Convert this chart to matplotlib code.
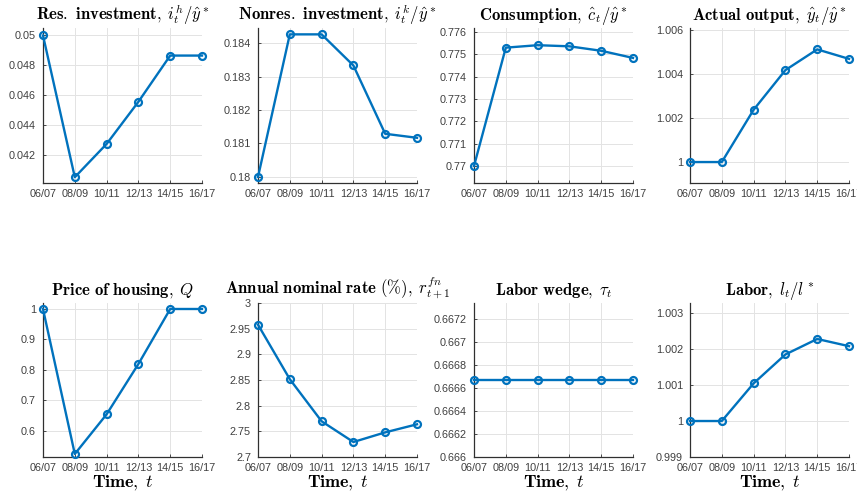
import matplotlib
matplotlib.use("Agg")
import matplotlib.pyplot as plt
from matplotlib.ticker import FixedLocator, FuncFormatter

plt.rcParams['mathtext.fontset'] = 'cm'
plt.rcParams['font.family'] = ['Liberation Sans', 'DejaVu Sans']

periods = ["06/07", "08/09", "10/11", "12/13", "14/15", "16/17"]

res_inv = [0.0500, 0.04049, 0.04272, 0.04555, 0.04865, 0.04865]
nonres_inv = [0.1800, 0.18426, 0.18426, 0.18333, 0.18129, 0.18117]
consumption = [0.7700, 0.7753, 0.77541, 0.77536, 0.77516, 0.77484]
output = [1.0000, 1.0000, 1.00237, 1.00417, 1.00511, 1.00468]
house_price = [1.0000, 0.5233, 0.6537, 0.8192, 1.0000, 1.0000]
nominal_rate = [2.9577, 2.8516, 2.7696, 2.7292, 2.7480, 2.7637]
labor_wedge = [0.666667, 0.666667, 0.666667, 0.666667, 0.666667, 0.666667]
labor = [1.0000, 1.0000, 1.001046, 1.00185, 1.00228, 1.00208]

titles = [
    r"$\mathbf{Res.\ investment,}\;i^h_t/\hat{y}^*$",
    r"$\mathbf{Nonres.\ investment,}\;i^k_t/\hat{y}^*$",
    r"$\mathbf{Consumption,}\;\hat{c}_t/\hat{y}^*$",
    r"$\mathbf{Actual\ output,}\;\hat{y}_t/\hat{y}^*$",
    r"$\mathbf{Price\ of\ housing,}\;Q$",
    r"$\mathbf{Annual\ nominal\ rate\ (\%),}\;r^{fn}_{t+1}$",
    r"$\mathbf{Labor\ wedge,}\;\tau_t$",
    r"$\mathbf{Labor,}\;l_t/l^*$",
]
series = [res_inv, nonres_inv, consumption, output, house_price, nominal_rate, labor_wedge, labor]
yticks = [
    [0.042, 0.044, 0.046, 0.048, 0.05],
    [0.18, 0.181, 0.182, 0.183, 0.184],
    [0.77, 0.771, 0.772, 0.773, 0.774, 0.775, 0.776],
    [1.0, 1.002, 1.004, 1.006],
    [0.6, 0.7, 0.8, 0.9, 1.0],
    [2.7, 2.75, 2.8, 2.85, 2.9, 2.95, 3.0],
    [0.666, 0.6662, 0.6664, 0.6666, 0.6668, 0.667, 0.6672],
    [0.999, 1.0, 1.001, 1.002, 1.003],
]
ylims = [
    (0.0401, 0.0505),
    (0.17982, 0.18445),
    (0.76924, 0.77618),
    (0.99905, 1.00608),
    (0.5134, 1.0197),
    (2.7, 3.0),
    (0.666, 0.66734),
    (0.999, 1.00328),
]

W, H = 857, 495
fig = plt.figure(figsize=(W / 100, H / 100), dpi=100)

lefts = [43, 258, 474, 690]
rows = [(28, 183), (303, 457)]
aw = 159

blue = '#0072BD'
gray = '#303030'
x = list(range(len(periods)))

for i in range(8):
    r, c = divmod(i, 4)
    top, bot = rows[r]
    ax = fig.add_axes([lefts[c] / W, 1 - bot / H, aw / W, (bot - top) / H])
    ax.plot(x, series[i], color=blue, lw=1.7, marker='o', ms=5,
            mfc='none', mec=blue, mew=1.6, clip_on=False, zorder=3)
    ax.set_xlim(0, len(periods) - 1)
    ax.set_ylim(*ylims[i])
    ax.set_xticks(x)
    ax.set_xticklabels(periods)
    ax.yaxis.set_major_locator(FixedLocator(yticks[i]))
    ax.yaxis.set_major_formatter(FuncFormatter(lambda v, p: '{:.10g}'.format(round(v, 6))))
    ax.grid(True, color='#e3e3e3', lw=0.7)
    ax.set_axisbelow(True)
    for s in ['top', 'right']:
        ax.spines[s].set_visible(False)
    for s in ['left', 'bottom']:
        ax.spines[s].set_color(gray)
        ax.spines[s].set_linewidth(0.9)
    ax.tick_params(direction='in', length=2.5, width=0.6, colors=gray,
                   labelsize=7.8, labelcolor='#404040')
    ax.tick_params(axis='y', pad=5)
    ax.tick_params(axis='x', pad=4)
    ax.set_title(titles[i], fontsize=12, pad=6, color='black')
    if r == 1:
        ax.set_xlabel(r"$\mathbf{Time,}\;t$", fontsize=13, labelpad=1, color='black')

fig.savefig('out.png', dpi=100)
